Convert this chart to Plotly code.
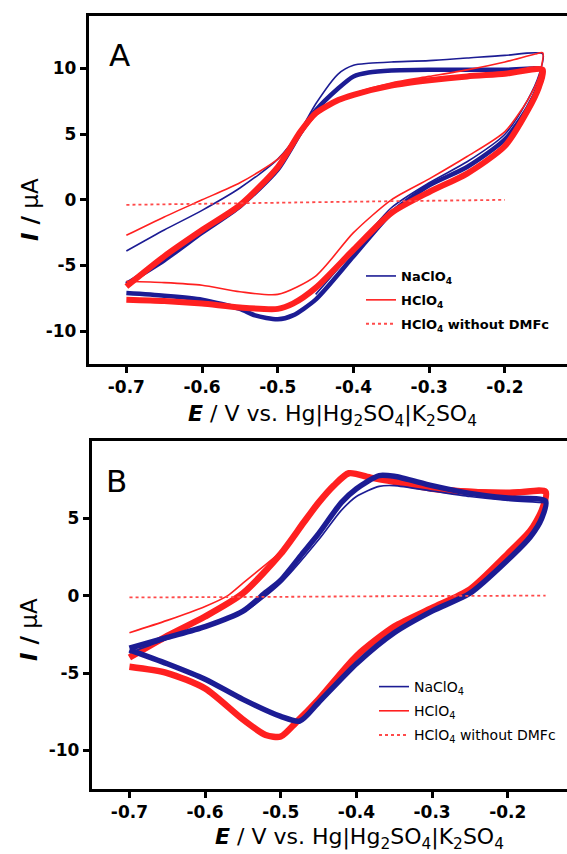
import plotly.graph_objects as go

# ---------------- Panel A data (E / V, I / uA) ----------------
A_na_main_E = [-0.70, -0.65, -0.60, -0.55, -0.50, -0.47, -0.45, -0.42, -0.40, -0.38, -0.35, -0.30, -0.25, -0.20, -0.15,
               -0.155, -0.17, -0.20, -0.25, -0.30, -0.35, -0.40, -0.45, -0.48, -0.50, -0.53, -0.55, -0.60, -0.65, -0.70]
A_na_main_I = [-6.4, -4.6, -2.5, -0.5, 2.3, 5.1, 6.8, 8.5, 9.4, 9.7, 9.85, 9.9, 9.9, 9.9, 9.9,
               8.8, 7.0, 4.6, 2.5, 1.1, -1.0, -4.3, -7.6, -8.8, -9.1, -8.8, -8.3, -7.6, -7.3, -7.1]

A_na_first_E = [-0.70, -0.65, -0.60, -0.55, -0.50, -0.47, -0.45, -0.42, -0.40, -0.38, -0.35, -0.30, -0.25, -0.20, -0.15,
                -0.155, -0.17, -0.20, -0.25, -0.30, -0.35, -0.40, -0.45]
A_na_first_I = [-3.9, -2.3, -0.8, 0.9, 3.1, 5.3, 7.3, 9.6, 10.25, 10.4, 10.5, 10.6, 10.8, 11.0, 11.1,
                9.5, 7.6, 5.0, 2.9, 1.3, -0.6, -3.9, -7.2]

A_h_main_E = [-0.70, -0.65, -0.60, -0.55, -0.50, -0.47, -0.45, -0.42, -0.40, -0.35, -0.30, -0.25, -0.20, -0.15,
              -0.155, -0.17, -0.20, -0.25, -0.30, -0.35, -0.40, -0.45, -0.48, -0.50, -0.55, -0.60, -0.65, -0.70]
A_h_main_I = [-6.6, -4.3, -2.3, -0.4, 2.5, 5.2, 6.6, 7.6, 8.0, 8.7, 9.1, 9.4, 9.6, 9.9,
              8.6, 6.8, 4.1, 2.0, 0.6, -1.0, -3.8, -6.7, -7.9, -8.3, -8.2, -7.9, -7.7, -7.6]

A_h_first_E = [-0.70, -0.65, -0.60, -0.55, -0.50, -0.47, -0.45, -0.42, -0.40, -0.35, -0.30, -0.25, -0.20, -0.16, -0.15,
               -0.155, -0.17, -0.20, -0.25, -0.30, -0.35, -0.40, -0.45, -0.50, -0.55, -0.60, -0.65, -0.70]
A_h_first_I = [-2.7, -1.3, 0.0, 1.3, 3.1, 5.0, 6.4, 7.6, 8.1, 8.9, 9.4, 9.9, 10.5, 11.1, 11.2,
               9.4, 7.6, 5.2, 3.3, 1.6, 0.0, -2.5, -5.8, -7.2, -7.0, -6.5, -6.3, -6.2]

A_blank_E = [-0.70, -0.60, -0.50, -0.40, -0.30, -0.20]
A_blank_I = [-0.38, -0.30, -0.22, -0.14, -0.07, 0.0]

# ---------------- Panel B data ----------------
B_na_main_E = [-0.70, -0.65, -0.60, -0.55, -0.52, -0.50, -0.47, -0.45, -0.42, -0.40, -0.37, -0.35, -0.30, -0.25, -0.20, -0.15,
               -0.155, -0.17, -0.20, -0.25, -0.30, -0.35, -0.40, -0.45, -0.475, -0.50, -0.55, -0.60, -0.65, -0.70]
B_na_main_I = [-3.4, -2.7, -2.0, -1.0, 0.2, 1.0, 2.8, 4.0, 6.0, 6.9, 7.75, 7.7, 7.1, 6.6, 6.3, 6.1,
               5.0, 3.8, 2.3, 0.15, -1.0, -2.4, -4.4, -6.9, -8.1, -7.8, -6.7, -5.4, -4.4, -3.5]

B_na_first_E = [-0.70, -0.65, -0.60, -0.55, -0.50, -0.45, -0.42, -0.40, -0.37, -0.35, -0.30, -0.25, -0.20, -0.15]
B_na_first_I = [-3.7, -2.8, -2.0, -1.1, 0.8, 3.6, 5.5, 6.4, 7.05, 7.1, 6.75, 6.4, 6.15, 6.0]

B_h_main_E = [-0.70, -0.65, -0.60, -0.55, -0.50, -0.47, -0.45, -0.43, -0.41, -0.38, -0.35, -0.30, -0.25, -0.20, -0.15,
              -0.155, -0.17, -0.20, -0.25, -0.30, -0.35, -0.40, -0.45, -0.48, -0.50, -0.52, -0.55, -0.60, -0.65, -0.70]
B_h_main_I = [-4.0, -2.6, -1.35, 0.15, 2.7, 4.7, 6.0, 7.1, 7.9, 7.6, 7.35, 6.9, 6.7, 6.6, 6.7,
              5.5, 4.2, 2.7, 0.4, -0.8, -2.0, -3.9, -6.7, -8.2, -9.1, -9.0, -8.0, -6.0, -5.0, -4.6]

B_h_first_E = [-0.70, -0.65, -0.60, -0.57, -0.55, -0.52, -0.50]
B_h_first_I = [-2.4, -1.6, -0.7, 0.0, 0.8, 2.0, 2.8]

B_h_top_E = [-0.35, -0.30, -0.25, -0.20, -0.16, -0.15, -0.152, -0.16, -0.18]
B_h_top_I = [7.4, 7.0, 6.85, 6.8, 6.85, 6.6, 5.8, 4.8, 3.6]

B_blank_E = [-0.70, -0.60, -0.50, -0.40, -0.30, -0.20, -0.15]
B_blank_I = [-0.12, -0.10, -0.08, -0.05, -0.03, -0.01, 0.0]

# ---------------- ticks / labels ----------------
x_ticks = [-0.7, -0.6, -0.5, -0.4, -0.3, -0.2]
x_ticktext = ["-0.7", "-0.6", "-0.5", "-0.4", "-0.3", "-0.2"]
yA_ticks = [-10, -5, 0, 5, 10]
yA_ticktext = ["-10", "-5", "0", "5", "10"]
yB_ticks = [-10, -5, 0, 5]
yB_ticktext = ["-10", "-5", "0", "5"]
names = ["NaClO<sub>4</sub>", "HClO<sub>4</sub>", "HClO<sub>4</sub> without DMFc"]

BLUE = "#1c1c94"
RED = "#ff2020"
RED_DOT = "#ff4a4a"
FONT = "DejaVu Sans"

fig = go.Figure()

def add(E, I, color, width, xa, ya, group, show=False, name=None, dash=None, legend="legend", rank=1):
    fig.add_trace(go.Scatter(
        x=E, y=I, mode="lines", xaxis=xa, yaxis=ya,
        line=dict(color=color, width=width, shape="spline", smoothing=0.7, dash=dash),
        legendgroup=group + legend, showlegend=show, name=name, legend=legend, legendrank=rank,
        hoverinfo="skip"))

# Panel A (red on top)
add(A_na_main_E, A_na_main_I, BLUE, 4.5, "x", "y", "na")
add(A_na_first_E, A_na_first_I, BLUE, 1.6, "x", "y", "na", True, names[0], rank=1)
add(A_h_main_E, A_h_main_I, RED, 6, "x", "y", "h")
add(A_h_first_E, A_h_first_I, RED, 1.6, "x", "y", "h", True, names[1], rank=2)
add(A_blank_E, A_blank_I, RED_DOT, 1.8, "x", "y", "b", True, names[2], dash="dot", rank=3)

# Panel B (blue on top)
add(B_h_main_E, B_h_main_I, RED, 6.5, "x2", "y2", "h", legend="legend2")
add(B_h_first_E, B_h_first_I, RED, 1.6, "x2", "y2", "h", True, names[1], legend="legend2", rank=2)
add(B_h_top_E, B_h_top_I, RED, 1.6, "x2", "y2", "h", legend="legend2")
add(B_na_main_E, B_na_main_I, BLUE, 5.5, "x2", "y2", "na", legend="legend2")
add(B_na_first_E, B_na_first_I, BLUE, 1.6, "x2", "y2", "na", True, names[0], legend="legend2", rank=1)
add(B_blank_E, B_blank_I, RED_DOT, 1.8, "x2", "y2", "b", True, names[2], dash="dot", legend="legend2", rank=3)

W, H = 567, 854

def xax(dom, rng, anchor):
    return dict(domain=dom, range=rng, anchor=anchor, tickvals=x_ticks, ticktext=x_ticktext,
                ticks="outside", ticklen=6, tickwidth=2.5, tickcolor="black",
                showline=True, linewidth=2.5, linecolor="black", mirror=True,
                showgrid=False, zeroline=False, ticklabelstandoff=0,
                tickfont=dict(family=FONT, size=17, color="black", weight="bold"))

def yax(dom, rng, anchor, tv, tt):
    return dict(domain=dom, range=rng, anchor=anchor, tickvals=tv, ticktext=tt,
                ticks="outside", ticklen=6, tickwidth=2.5, tickcolor="black",
                showline=True, linewidth=2.5, linecolor="black", mirror=False,
                showgrid=False, zeroline=False,
                tickfont=dict(family=FONT, size=17, color="black", weight="bold"))

fig.update_layout(
    width=W, height=H, margin=dict(l=0, r=0, t=0, b=0),
    paper_bgcolor="white", plot_bgcolor="white",
    xaxis=xax([88.5 / W, 1], [-0.75, -0.118], "y"),
    yaxis=yax([1 - 364 / H, 1 - 16 / H], [-12.5, 14], "x", yA_ticks, yA_ticktext),
    xaxis2=xax([91.6 / W, 1], [-0.75, -0.1217], "y2"),
    yaxis2=yax([1 - 789.2 / H, 1 - 440.7 / H], [-12.5, 10], "x2", yB_ticks, yB_ticktext),
    legend=dict(x=361 / W, y=1 - 261 / H, xanchor="left", yanchor="top",
                bgcolor="rgba(0,0,0,0)", traceorder="grouped", tracegroupgap=4,
                font=dict(family=FONT, size=13, color="black", weight="bold")),
    legend2=dict(x=374 / W, y=1 - 671 / H, xanchor="left", yanchor="top",
                 bgcolor="rgba(0,0,0,0)", traceorder="grouped", tracegroupgap=3,
                 font=dict(family=FONT, size=14, color="black")),
    showlegend=True,
)

xtitle = "<b><i>E</i></b> / V vs. Hg|Hg<sub>2</sub>SO<sub>4</sub>|K<sub>2</sub>SO<sub>4</sub>"
ytitle = "<b><i>I</i> /</b> µA"
ann = [
    dict(text=xtitle, x=332.7 / W, y=1 - 415 / H),
    dict(text=xtitle, x=359 / W, y=1 - 838 / H),
]
for a in ann:
    a.update(xref="paper", yref="paper", xanchor="center", yanchor="middle", showarrow=False,
             font=dict(family=FONT, size=22, color="black"))
for (xx, yy) in [(30, 210), (29, 630)]:
    ann.append(dict(text=ytitle, x=xx / W, y=1 - yy / H, xref="paper", yref="paper", textangle=-90,
                    xanchor="center", yanchor="middle", showarrow=False,
                    font=dict(family=FONT, size=23, color="black")))
for (t, xx, yy) in [("A", 119, 55), ("B", 116.5, 481)]:
    ann.append(dict(text=t, x=xx / W, y=1 - yy / H, xref="paper", yref="paper",
                    xanchor="center", yanchor="middle", showarrow=False,
                    font=dict(family=FONT, size=31, color="black")))
fig.update_layout(annotations=ann)

fig.write_html("out.html")
